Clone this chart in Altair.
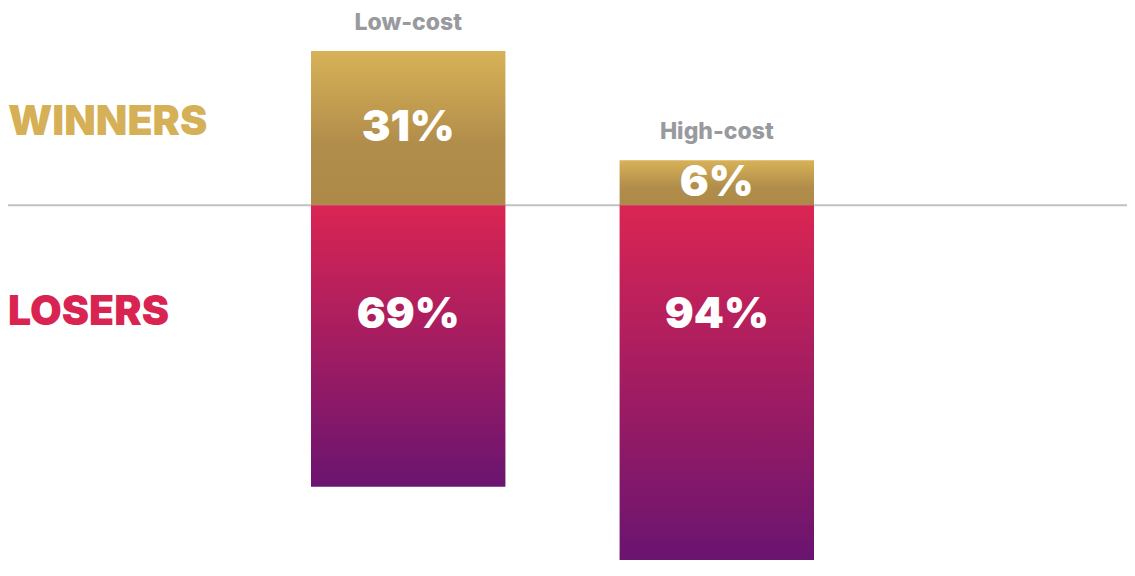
import altair as alt
import pandas as pd

costs = ["Low-cost", "High-cost"]
winners = [31, 6]
losers = [69, 94]
groups = ["WINNERS", "LOSERS"]

rows = []
for c, w, l in zip(costs, winners, losers):
    rows.append({"cost": c, "group": "WINNERS", "value": w, "label": f"{w}%"})
    rows.append({"cost": c, "group": "LOSERS", "value": -l, "label": f"{l}%"})
df = pd.DataFrame(rows)

FONT = "Inter"
GOLD = "#d6b056"
CRIMSON = "#d92452"

gold_grad = alt.Gradient(
    gradient="linear",
    stops=[
        alt.GradientStop(color="#d8b257", offset=0),
        alt.GradientStop(color="#b18d4b", offset=0.6),
        alt.GradientStop(color="#ad8a48", offset=1),
    ],
    x1=0, x2=0, y1=0, y2=1,
)
red_grad = alt.Gradient(
    gradient="linear",
    stops=[
        alt.GradientStop(color="#da2553", offset=0),
        alt.GradientStop(color="#6a1470", offset=1),
    ],
    x1=0, x2=0, y1=0, y2=1,
)

xenc = alt.X(
    "cost:N", sort=costs, axis=None,
    scale=alt.Scale(domain=costs, range=[303, 806], paddingInner=0.37, paddingOuter=0),
)
yscale = alt.Scale(type="pow", exponent=0.75, domain=[-95.4, 43], nice=False, zero=False)

base = alt.Chart(df).encode(x=xenc)

rule = alt.Chart(pd.DataFrame({"z": [0]})).mark_rule(color="#c1c1c5", strokeWidth=2).encode(
    y=alt.Y("z:Q", scale=yscale, axis=None)
)

win_bar = base.transform_filter(alt.datum.group == "WINNERS").mark_bar(color=gold_grad).encode(
    y=alt.Y("value:Q", scale=yscale, axis=None), y2=alt.datum(0)
)
lose_bar = base.transform_filter(alt.datum.group == "LOSERS").mark_bar(color=red_grad).encode(
    y=alt.Y("value:Q", scale=yscale, axis=None), y2=alt.datum(0)
)

win_text = base.transform_filter(alt.datum.group == "WINNERS").transform_calculate(
    mid="datum.value * pow(0.5, 4/3)"
).mark_text(color="white", font=FONT, fontWeight=900, fontSize=43, baseline="middle", align="center").encode(
    y=alt.Y("mid:Q", scale=yscale, axis=None), text="label:N"
)
lose_text = base.transform_filter(alt.datum.group == "LOSERS").mark_text(
    color="white", font=FONT, fontWeight=900, fontSize=43, baseline="middle", align="center"
).encode(y=alt.value(307), text="label:N")

cat_text = base.transform_filter(alt.datum.group == "WINNERS").mark_text(
    color="#999a9e", font=FONT, fontWeight=800, fontSize=23, baseline="middle", align="center", dy=-28
).encode(y=alt.Y("value:Q", scale=yscale, axis=None), text="cost:N")

gdf = pd.DataFrame({"group": groups})
win_lab = alt.Chart(gdf).transform_filter(alt.datum.group == "WINNERS").mark_text(
    color=GOLD, font=FONT, fontWeight=900, fontSize=41, baseline="middle", align="left"
).encode(x=alt.value(0), y=alt.value(115), text="group:N")
lose_lab = alt.Chart(gdf).transform_filter(alt.datum.group == "LOSERS").mark_text(
    color=CRIMSON, font=FONT, fontWeight=900, fontSize=41, baseline="middle", align="left"
).encode(x=alt.value(0), y=alt.value(305), text="group:N")

chart = alt.layer(rule, win_bar, lose_bar, win_text, lose_text, cat_text, win_lab, lose_lab).properties(
    width=1119, height=556, autosize=alt.AutoSizeParams(type="none"), padding=0, background="white"
).configure_view(stroke=None)

chart.save("out.html", embed_options={"renderer": "svg", "actions": False})
